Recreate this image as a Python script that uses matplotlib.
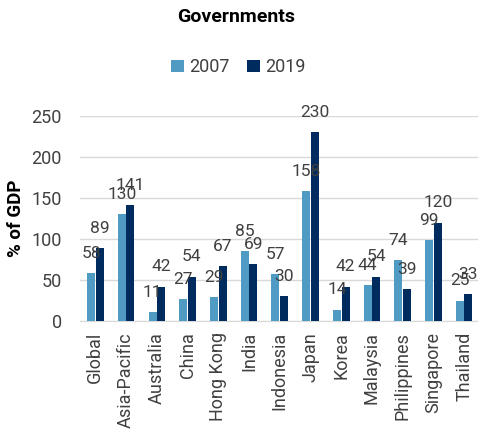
import numpy as np
import matplotlib
matplotlib.use("Agg")
import matplotlib.pyplot as plt

plt.rcParams['font.family'] = ['Roboto', 'DejaVu Sans']

categories = ["Global", "Asia-Pacific", "Australia", "China", "Hong Kong", "India",
              "Indonesia", "Japan", "Korea", "Malaysia", "Philippines", "Singapore", "Thailand"]
y2007 = [58, 130, 11, 27, 29, 85, 57, 158, 14, 44, 74, 99, 25]
y2019 = [89, 141, 42, 54, 67, 69, 30, 230, 42, 54, 39, 120, 33]

c07 = "#4f9bc3"
c19 = "#002b5e"
txt = "#404040"

fig = plt.figure(figsize=(4.78, 4.36), dpi=100)
ax = fig.add_axes([80/478, 115/436, 398/478, 205/436])

x = np.arange(len(categories))
w = 0.26
b1 = ax.bar(x - 0.14, y2007, w, color=c07, label="2007", zorder=3)
b2 = ax.bar(x + 0.14, y2019, w, color=c19, label="2019", zorder=3)

# value labels above each bar
for bars, vals in ((b1, y2007), (b2, y2019)):
    for r, v in zip(bars, vals):
        ax.annotate(str(v), (r.get_x() + r.get_width()/2, v), xytext=(0, 11),
                    textcoords="offset points", ha="center", va="baseline",
                    fontsize=12.5, color=txt, annotation_clip=False, zorder=4)

ax.set_xlim(-0.5, 12.45)
ax.set_ylim(0, 250)
ax.set_yticks([0, 50, 100, 150, 200, 250])
ax.set_xticks(x)
ax.set_xticklabels(categories, rotation=90)
ax.tick_params(axis="both", length=0, labelsize=13, labelcolor=txt)
ax.tick_params(axis="y", pad=13)
ax.tick_params(axis="x", pad=8)
ax.grid(axis="y", color="#d9d9d9", linewidth=1, zorder=0)
for s in ["top", "right", "left"]:
    ax.spines[s].set_visible(False)
ax.spines["bottom"].set_color("#d9d9d9")
ax.set_ylabel("% of GDP", fontsize=13.5, fontweight="bold", labelpad=5)

fig.text(0.494, 0.96, "Governments", ha="center", va="center", fontsize=14, fontweight="bold")
fig.legend(handles=[b1, b2], loc="center", bbox_to_anchor=(0.499, 0.846), ncol=2,
           frameon=False, fontsize=13, handlelength=0.7, handleheight=0.7,
           handletextpad=0.3, columnspacing=1.0, labelcolor=txt)

plt.savefig("out.png", dpi=100)
plt.close()
